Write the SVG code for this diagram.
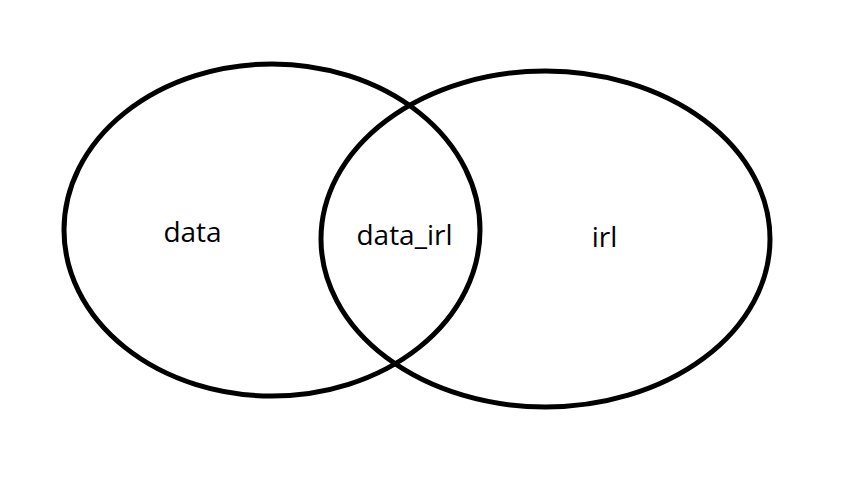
<svg xmlns="http://www.w3.org/2000/svg" width="857" height="487" viewBox="0 0 857 487">
<style>
.set{fill:none;stroke:#000;stroke-width:5}
.lbl{font-family:"Open Sans","Liberation Sans",sans-serif;font-size:28px;fill:#000;text-anchor:middle}
</style>
<rect width="857" height="487" fill="#fff"/>
<g id="set-data"><ellipse class="set" cx="272" cy="230" rx="208" ry="166"/></g>
<g id="set-irl"><ellipse class="set" cx="545.5" cy="239" rx="224.5" ry="168"/></g>
<g id="connectors"></g>
<g id="labels">
<text class="lbl" x="192.5" y="242">data</text>
<text class="lbl" x="404.5" y="245">data_irl</text>
<text class="lbl" x="604.5" y="247">irl</text>
</g>
</svg>
